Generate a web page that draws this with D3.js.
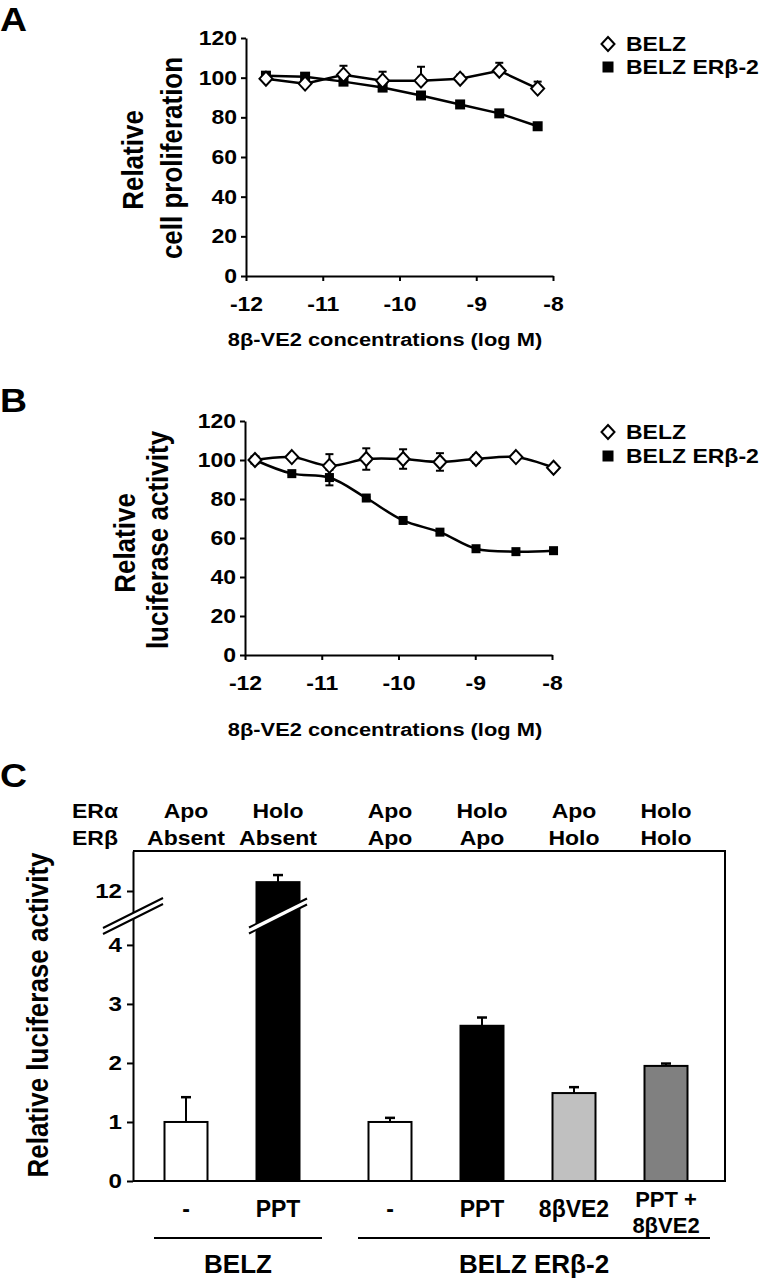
<!DOCTYPE html>
<html><head><meta charset="utf-8">
<script src="https://cdn.jsdelivr.net/npm/d3@7"></script>
<style>
body{margin:0;background:#fff}
text{font-family:"Liberation Sans",Arial,sans-serif;font-weight:bold;fill:#000}
</style>
</head><body>
<svg id="chart" width="759" height="1280"></svg>
<script>
// ---------- DATA ----------
// Panel A: relative cell proliferation
const xA = [-11.74, -11.23, -10.73, -10.22, -9.72, -9.21, -8.70, -8.20];
const belzA = [99.5, 97, 101.5, 98.5, 98.5, 99.5, 103.5, 94.5];
const belzAErr = [1.5, 1.5, 4.5, 4.5, 7, 2, 4, 3.5];
const erbA = [101, 100.5, 98, 95, 91, 86.5, 82, 75.5];
const erbAErr = [1.5, 1, 1, 1, 1, 1.5, 1, 1];
// Panel B: relative luciferase activity
const xB = [-11.87, -11.39, -10.90, -10.42, -9.94, -9.46, -8.99, -8.47, -7.98];
const belzB = [100, 101.5, 97, 100.5, 100.5, 99, 100.5, 101.5, 96];
const belzBErr = [0.5, 0.5, 6, 5.5, 5, 4.5, 2, 0.5, 0.5];
const erbB = [100, 93, 91, 80.5, 69, 63, 54.5, 53, 53.5];
const erbBErr = [0.5, 0.5, 4, 0.5, 0.5, 0.5, 0.5, 0.5, 0.5];
const yTicksAB = [0, 20, 40, 60, 80, 100, 120];
const xTicksAB = [-12, -11, -10, -9, -8];
const seriesNames = ["BELZ", "BELZ ERβ-2"];
const xTitle = "8β-VE2 concentrations (log M)";
// Panel C: bars
const cTreatments = [["-"], ["PPT"], ["-"], ["PPT"], ["8βVE2"], ["PPT +", "8βVE2"]];
const cGroups = ["BELZ", "BELZ", "BELZ ERβ-2", "BELZ ERβ-2", "BELZ ERβ-2", "BELZ ERβ-2"];
const cValues = [1.0, 12.15, 1.0, 2.63, 1.49, 1.95];
const cErrors = [0.42, 0.12, 0.07, 0.14, 0.10, 0.04];
const cERalpha = ["Apo", "Holo", "Apo", "Holo", "Apo", "Holo"];
const cERbeta = ["Absent", "Absent", "Apo", "Apo", "Holo", "Holo"];
const cYTicks = [0, 1, 2, 3, 4, 12];

// ---------- STYLE ----------
const SX = 1.15;
const barFills = ["#ffffff", "#000000", "#ffffff", "#000000", "#c0c0c0", "#808080"];

const svg = d3.select("#chart");

function sText(g, x, y, s, size, anchor, sx) {
  return g.append("text")
    .attr("transform", `translate(${x},${y}) scale(${sx},1)`)
    .attr("font-size", size).attr("text-anchor", anchor).text(s);
}
function vText(g, x, y, s, size) {
  return g.append("text")
    .attr("transform", `translate(${x},${y}) scale(1.1,1) rotate(-90)`)
    .attr("font-size", size).attr("text-anchor", "middle").text(s);
}
function styleAxis(ag, size) {
  ag.attr("font-size", size).attr("font-family", null);
  ag.selectAll("path,line").attr("stroke", "#000").attr("stroke-width", 2);
  ag.selectAll(".tick text").each(function () {
    const t = d3.select(this);
    const x = +t.attr("x") || 0, y = +t.attr("y") || 0;
    t.attr("x", 0).attr("y", 0).attr("transform", `translate(${x},${y}) scale(${SX},1)`);
  });
}
function diamond(g, cx, cy) {
  g.append("path").attr("d", `M${cx},${cy - 7}L${cx + 6.5},${cy}L${cx},${cy + 7}L${cx - 6.5},${cy}Z`)
    .attr("fill", "#fff").attr("stroke", "#000").attr("stroke-width", 2);
}
function square(g, cx, cy, s) {
  g.append("rect").attr("x", cx - s / 2).attr("y", cy - s / 2).attr("width", s).attr("height", s).attr("fill", "#000");
}

function linePanel(cfg) {
  const g = svg.append("g");
  const x = d3.scaleLinear().domain([-12, -8]).range(cfg.xr);
  const y = d3.scaleLinear().domain([0, 120]).range(cfg.yr);
  const ay = g.append("g").attr("transform", `translate(${cfg.xr[0]},0)`)
    .call(d3.axisLeft(y).tickValues(yTicksAB).tickSize(5).tickPadding(4).tickSizeOuter(0));
  styleAxis(ay, 20);
  const ax = g.append("g").attr("transform", `translate(0,${cfg.yr[0]})`)
    .call(d3.axisBottom(x).tickValues(xTicksAB).tickSize(5).tickPadding(16).tickSizeOuter(0).tickFormat(d => String(d)));
  styleAxis(ax, 20);

  const curve = cfg.smooth ? d3.curveCatmullRom : d3.curveLinear;
  const line = d3.line().x(d => x(d[0])).y(d => y(d[1])).curve(curve);
  const s1 = cfg.xs.map((v, i) => [v, cfg.s1[i], cfg.e1[i]]);
  const s2 = cfg.xs.map((v, i) => [v, cfg.s2[i], cfg.e2[i]]);
  // error bars
  [s2, s1].forEach(s => s.forEach(d => {
    const top = y(d[1] + d[2]), bot = cfg.twoSided ? y(d[1] - d[2]) : y(d[1]);
    g.append("line").attr("x1", x(d[0])).attr("x2", x(d[0])).attr("y1", top).attr("y2", bot).attr("stroke", "#000").attr("stroke-width", 2);
    g.append("line").attr("x1", x(d[0]) - 4).attr("x2", x(d[0]) + 4).attr("y1", top).attr("y2", top).attr("stroke", "#000").attr("stroke-width", 2);
    if (cfg.twoSided) g.append("line").attr("x1", x(d[0]) - 4).attr("x2", x(d[0]) + 4).attr("y1", bot).attr("y2", bot).attr("stroke", "#000").attr("stroke-width", 2);
  }));
  g.append("path").attr("d", line(s2)).attr("fill", "none").attr("stroke", "#000").attr("stroke-width", 2.5);
  g.append("path").attr("d", line(s1)).attr("fill", "none").attr("stroke", "#000").attr("stroke-width", 2.5);
  s2.forEach(d => square(g, x(d[0]), y(d[1]), cfg.sq));
  s1.forEach(d => diamond(g, x(d[0]), y(d[1])));

  // legend
  diamond(g, 608, cfg.leg[0]);
  sText(g, 626, cfg.leg[0] + 7, seriesNames[0], 20, "start", SX);
  square(g, 608, cfg.leg[1], 11);
  sText(g, 626, cfg.leg[1] + 7, seriesNames[1], 20, "start", SX);

  // labels
  sText(g, 0, cfg.letterY, cfg.letter, 34, "start", 1.1);
  vText(g, cfg.yl1[0], cfg.yl1[1], "Relative", 26);
  vText(g, cfg.yl2[0], cfg.yl2[1], cfg.ylabel2, 26);
  sText(g, 385, cfg.titleY, xTitle, 19, "middle", SX);
}

linePanel({
  xr: [246, 553], yr: [276, 38], xs: xA, s1: belzA, e1: belzAErr, s2: erbA, e2: erbAErr,
  smooth: false, twoSided: false, sq: 10, leg: [44, 67], letter: "A", letterY: 31,
  yl1: [143, 160], yl2: [182, 158], ylabel2: "cell proliferation", titleY: 346
});
linePanel({
  xr: [245, 552], yr: [655, 421], xs: xB, s1: belzB, e1: belzBErr, s2: erbB, e2: erbBErr,
  smooth: true, twoSided: true, sq: 9, leg: [432, 456], letter: "B", letterY: 412,
  yl1: [135, 543], yl2: [168, 540], ylabel2: "luciferase activity", titleY: 736
});

// ---------- PANEL C ----------
const gC = svg.append("g");
const left = 133, right = 725;
const yC = d3.scaleLinear().domain([0, 4.49, 11.576, 12.678]).range([1181, 916, 916, 851]);
const xIdx = d3.scaleLinear().domain([0, 5]).range([186, 646]);
const groupGap = 20;
const cx = i => xIdx(i) + (cGroups[i] === cGroups[0] ? 0 : groupGap);
const bw = 43;

// frame
gC.append("path").attr("d", `M${left},${yC(12.678)}H${right}V${yC(0)}H${left}`)
  .attr("fill", "none").attr("stroke", "#000").attr("stroke-width", 2);
const ayC = gC.append("g").attr("transform", `translate(${left},0)`)
  .call(d3.axisLeft(yC).tickValues(cYTicks).tickSize(6).tickPadding(5).tickSizeOuter(0));
styleAxis(ayC, 21);

// bars
cValues.forEach((v, i) => {
  gC.append("line").attr("x1", cx(i)).attr("x2", cx(i)).attr("y1", yC(v)).attr("y2", yC(v + cErrors[i]))
    .attr("stroke", "#000").attr("stroke-width", 2);
  gC.append("line").attr("x1", cx(i) - 5).attr("x2", cx(i) + 5).attr("y1", yC(v + cErrors[i])).attr("y2", yC(v + cErrors[i]))
    .attr("stroke", "#000").attr("stroke-width", 2.5);
  gC.append("rect").attr("x", cx(i) - bw / 2).attr("y", yC(v)).attr("width", bw).attr("height", yC(0) - yC(v))
    .attr("fill", barFills[i]).attr("stroke", "#000").attr("stroke-width", 2);
});

// axis breaks
function breakMark(x0, half) {
  const yb = yC(4.49), dy = half / 2, gap = 3;
  gC.append("path").attr("d", `M${x0 - half},${yb + dy - gap}L${x0 + half},${yb - dy - gap}L${x0 + half},${yb - dy + gap}L${x0 - half},${yb + dy + gap}Z`)
    .attr("fill", "#fff");
  [-gap, gap].forEach(o => gC.append("line")
    .attr("x1", x0 - half).attr("y1", yb + dy + o).attr("x2", x0 + half).attr("y2", yb - dy + o)
    .attr("stroke", "#000").attr("stroke-width", 2));
}
breakMark(left, 30);
breakMark(cx(1), 29);

// top condition labels
sText(gC, 72, 818, "ERα", 20, "start", SX);
sText(gC, 72, 845, "ERβ", 20, "start", SX);
cERalpha.forEach((s, i) => sText(gC, cx(i), 818, s, 20, "middle", SX));
cERbeta.forEach((s, i) => sText(gC, cx(i), 845, s, 20, "middle", SX));

// bottom treatment labels
cTreatments.forEach((lines, i) => {
  if (lines.length === 1) sText(gC, cx(i), 1217, lines[0], 23, "middle", 1);
  else lines.forEach((s, k) => sText(gC, cx(i), 1207 + k * 26, s, 22, "middle", 1));
});
// group lines
const groupNames = Array.from(new Set(cGroups));
groupNames.forEach(gn => {
  const idx = cGroups.map((g, i) => g === gn ? i : -1).filter(i => i >= 0);
  const x1 = cx(idx[0]) - 32, x2 = cx(idx[idx.length - 1]) + 44;
  gC.append("line").attr("x1", x1).attr("x2", x2).attr("y1", 1238).attr("y2", 1238).attr("stroke", "#000").attr("stroke-width", 2);
  sText(gC, (x1 + x2) / 2, 1273, gn, 26, "middle", 1);
});

sText(gC, 0, 787, "C", 34, "start", 1.1);
vText(gC, 48, 1015, "Relative luciferase activity", 26);
</script>
</body></html>
